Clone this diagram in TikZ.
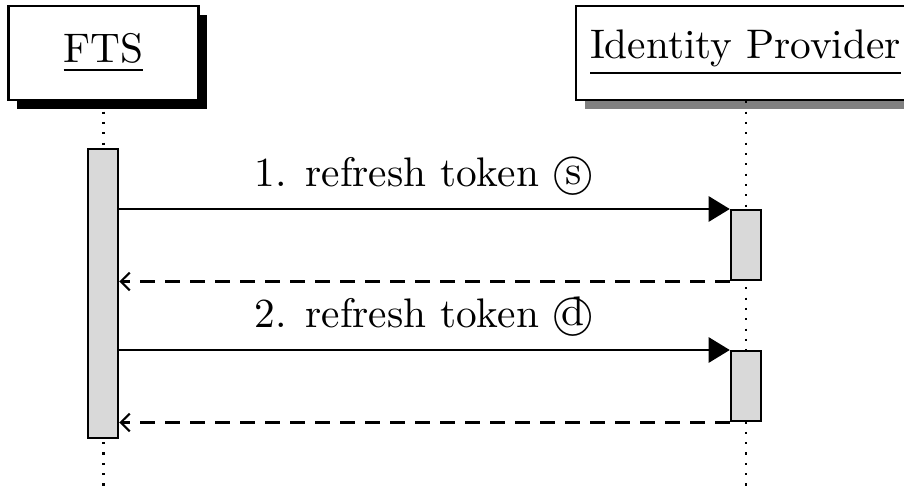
\documentclass[tikz,border=0pt]{standalone}
\usetikzlibrary{arrows.meta,shadows}
\begin{document}
\begin{tikzpicture}[x=0.242pt,y=-0.242pt,
  inst/.style={draw, fill=white, line width=0.6pt, minimum height=94*0.242pt, inner sep=3.33pt},
  bar/.style={draw, fill=gray!30, line width=0.6pt, minimum width=30*0.242pt, inner sep=0pt},
  msg/.style={line width=0.5pt, -{Triangle[length=5.1pt,width=6.1pt]}},
  ret/.style={line width=0.5pt, dash pattern=on 3.6pt off 2.45pt, -{Straight Barb[length=2.2pt,width=4.3pt]}},
  life/.style={dotted, line width=0.5pt}]
\useasboundingbox (0,0) rectangle (904,492);
% instances
\node[inst, drop shadow={opacity=1,fill=black,shadow xshift=8.7*0.242pt,shadow yshift=-8.7*0.242pt}, minimum width=190*0.242pt] (fts) at (103.5,53) {\underline{FTS}};
\node[inst, drop shadow={opacity=1,fill=black!50,shadow xshift=8.7*0.242pt,shadow yshift=-8.7*0.242pt}, anchor=west] (idp) at (575,53) {\underline{Identity Provider}};
% lifelines
\coordinate (ftsend) at (103.5,492);
\coordinate (idpend) at (746,492);
\draw[life] (fts.south) -- (ftsend);
\draw[life] (idp.south -| idpend) -- (idpend);
% activation bars
\node[bar, anchor=north, minimum height=289*0.242pt] (ftsbar) at (103,148) {};
\node[bar, anchor=north, minimum height=70*0.242pt] (idpbar1) at (746,209) {};
\node[bar, anchor=north, minimum height=70*0.242pt] (idpbar2) at (746,350) {};
% messages
\draw[msg] (ftsbar.east |- idpbar1.north) -- node[above] (l1) {1. refresh token \textcircled{s}} (idpbar1.north west);
\draw[ret] (idpbar1.south west) -- (ftsbar.east |- idpbar1.south);
\draw[msg] (ftsbar.east |- idpbar2.north) -- node[above] (l2) {2. refresh token \textcircled{d}} (idpbar2.north west);
\draw[ret] (idpbar2.south west) -- (ftsbar.east |- idpbar2.south);
\end{tikzpicture}
\end{document}
